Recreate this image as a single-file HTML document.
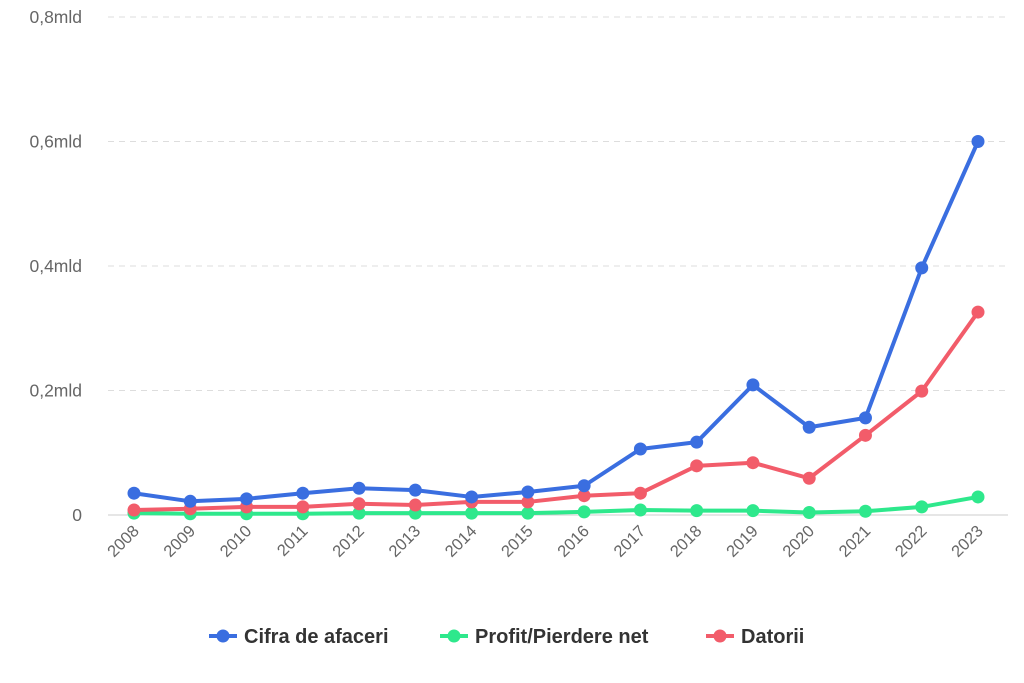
<!DOCTYPE html>
<html><head><meta charset="utf-8"><style>
body{margin:0;background:#fff;font-family:"Liberation Sans",sans-serif}
svg{display:block}
</style></head><body>
<svg id="chart" width="1024" height="683"></svg>
<script>
const years=[2008,2009,2010,2011,2012,2013,2014,2015,2016,2017,2018,2019,2020,2021,2022,2023];
const cifra=[0.035,0.022,0.026,0.035,0.043,0.040,0.029,0.037,0.047,0.106,0.117,0.209,0.141,0.156,0.397,0.600];
const profit=[0.003,0.002,0.002,0.002,0.003,0.003,0.003,0.003,0.005,0.008,0.007,0.007,0.004,0.006,0.013,0.029];
const datorii=[0.008,0.010,0.013,0.013,0.018,0.016,0.021,0.021,0.031,0.035,0.079,0.084,0.059,0.128,0.199,0.326];
const yTicks=[0,0.2,0.4,0.6,0.8];
const yTickLabels=["0","0,2mld","0,4mld","0,6mld","0,8mld"];
const NS="http://www.w3.org/2000/svg";
const svg=document.getElementById('chart');
const x=i=>134+i*(844/15);
const y=v=>515-v*(498/0.8);
function mk(t,a,p){const e=document.createElementNS(NS,t);for(const k in a)e.setAttribute(k,a[k]);(p||svg).appendChild(e);return e;}
yTicks.forEach((v,i)=>{
  if(v>0){const l=mk('line',{x1:108,x2:1008,y1:y(v),y2:y(v),stroke:'#ddd','stroke-dasharray':'6,5'});
  
  }
  const t=mk('text',{x:82,y:y(v)+6,'text-anchor':'end','font-size':17.5,fill:'#666'});
  
  
  t.textContent=yTickLabels[i];
});
const ax=mk('line',{x1:108,x2:1008,y1:515,y2:515,stroke:'#ccc'});


years.forEach((yr,i)=>{
  const t=mk('text',{x:x(i)+6,y:532,'text-anchor':'end','font-size':16.5,fill:'#666',transform:`rotate(-45 ${x(i)+6} 532)`});
  
  
  t.textContent=yr;
});
const series=[[profit,'#2ee88c','profit'],[datorii,'#f25c6a','datorii'],[cifra,'#3a6ee0','cifra']];
series.forEach(([d,c,n])=>{
  const p=mk('polyline',{points:d.map((v,i)=>x(i)+','+y(v)).join(' '),fill:'none',stroke:c,'stroke-width':4,'stroke-linejoin':'round'});
  
  
  d.forEach((v,i)=>{const m=mk('circle',{cx:x(i),cy:y(v),r:6.5,fill:c});
  
  });
});
const leg=[['Cifra de afaceri','#3a6ee0',209],['Profit/Pierdere net','#2ee88c',440],['Datorii','#f25c6a',706]];
leg.forEach(([t,c,lx])=>{
  const g=mk('g',{});
  
  
  mk('line',{x1:lx,x2:lx+28,y1:636,y2:636,stroke:c,'stroke-width':4},g);
  mk('circle',{cx:lx+14,cy:636,r:6.5,fill:c},g);
  const tx=mk('text',{x:lx+35,y:643,'font-size':20,'font-weight':'bold',fill:'#333'},g);
  tx.textContent=t;
});
</script>
</body></html>
